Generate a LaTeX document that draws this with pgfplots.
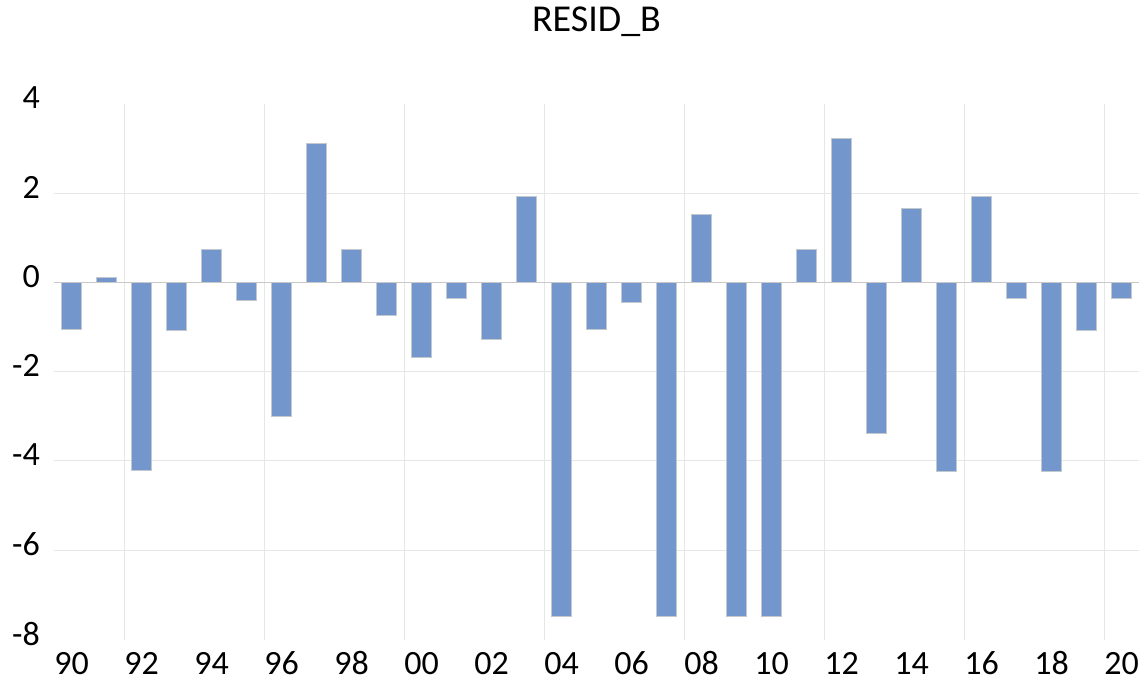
\documentclass[border=0pt]{standalone}
\usepackage{pgfplots}
\pgfplotsset{compat=1.18}
\usepackage{fontspec}
\setmainfont{Carlito}
\definecolor{barfill}{HTML}{7396CC}
\definecolor{baredge}{HTML}{C3C7CE}
\definecolor{gridc}{HTML}{E6E6E6}
\definecolor{zeroc}{HTML}{C8C8C8}
\begin{document}
\begin{tikzpicture}
\begin{axis}[
  name=ax,
  scale only axis,
  width=1085pt, height=535.8pt,
  xmin=-0.5, xmax=30.5,
  ymin=-8, ymax=4,
  axis line style={draw=none},
  major tick length=0pt,
  xtick={0,2,...,30},
  xticklabels={90,92,94,96,98,00,02,04,06,08,10,12,14,16,18,20},
  ytick={-8,-6,-4,-2,0,2,4},
  yticklabels={-8,-6,-4,-2,0,2,4},
  extra x ticks={1.5,5.5,9.5,13.5,17.5,21.5,25.5,29.5},
  extra x tick labels={},
  extra x tick style={grid=major, major grid style={draw=gridc, line width=1pt}},
  extra y ticks={-6,-4,-2,2},
  extra y tick labels={},
  extra y tick style={grid=major, major grid style={draw=gridc, line width=1pt}},
  xticklabel style={font=\fontsize{34}{40}\selectfont, anchor=base, inner sep=0pt, yshift=-34.5pt},
  yticklabel style={font=\fontsize{34}{40}\selectfont, anchor=east, inner sep=0pt, xshift=-14pt, yshift=6pt},
  title={RESID\_B},
  title style={at={(0.5,1)}, anchor=center, yshift=76pt, inner sep=0pt, font=\fontsize{38}{44}\selectfont},
  clip=false,
]
\addplot[ybar, bar width=20pt, fill=barfill, draw=baredge, line width=0.8pt] coordinates {
(0,-1.05) (1,0.11) (2,-4.22) (3,-1.07) (4,0.73) (5,-0.40) (6,-3.01) (7,3.11)
(8,0.73) (9,-0.73) (10,-1.68) (11,-0.37) (12,-1.28) (13,1.92) (14,-7.49)
(15,-1.06) (16,-0.46) (17,-7.49) (18,1.51) (19,-7.49) (20,-7.49) (21,0.73)
(22,3.22) (23,-3.38) (24,1.66) (25,-4.23) (26,1.92) (27,-0.37) (28,-4.23)
(29,-1.07) (30,-0.37)
};
\draw[zeroc, line width=1.2pt] (axis cs:-0.5,0) -- (axis cs:30.5,0);
\end{axis}
\pgfresetboundingbox
\path (ax.south west) ++(-54pt,-39.5pt) coordinate (bl);
\path (ax.north east) ++(0pt,103.7pt) coordinate (tr);
\path (bl) rectangle (tr);
\end{tikzpicture}
\end{document}
